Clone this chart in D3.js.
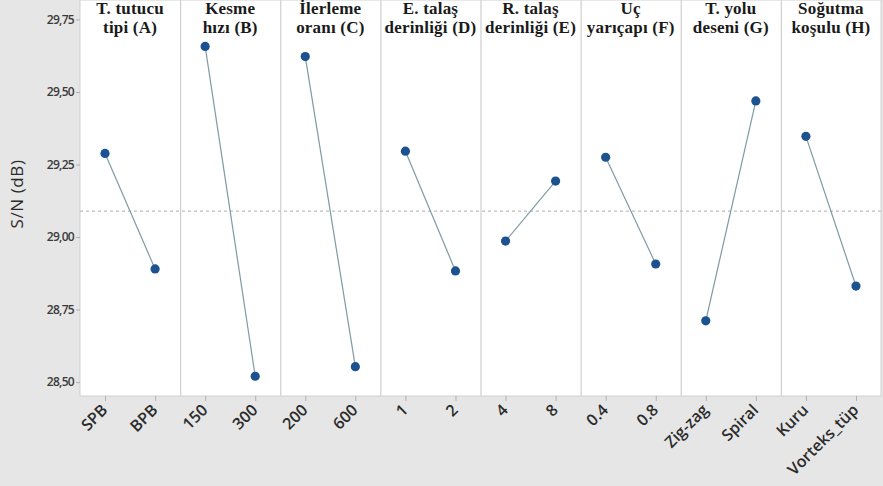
<!DOCTYPE html>
<html>
<head>
<meta charset="utf-8">
<script src="https://cdn.jsdelivr.net/npm/d3@7"></script>
<style>
  html, body { margin: 0; padding: 0; background: #e6e6e6; }
  svg { display: block; }
</style>
</head>
<body>
<svg id="chart" width="883" height="486"></svg>
<script>
// Factor headings (two lines each)
const factorTitles = [
  ["T. tutucu", "tipi (A)"],
  ["Kesme", "hızı (B)"],
  ["İlerleme", "oranı (C)"],
  ["E. talaş", "derinliği (D)"],
  ["R. talaş", "derinliği (E)"],
  ["Uç", "yarıçapı (F)"],
  ["T. yolu", "deseni (G)"],
  ["Soğutma", "koşulu (H)"]
];
// Level labels for each factor
const levelLabels = [
  ["SPB", "BPB"],
  ["150", "300"],
  ["200", "600"],
  ["1", "2"],
  ["4", "8"],
  ["0.4", "0.8"],
  ["Zig-zag", "Spiral"],
  ["Kuru", "Vorteks_tüp"]
];
// Mean S/N ratio (dB) per level
const snValues = [
  [29.288, 28.890],
  [29.657, 28.520],
  [29.622, 28.553],
  [29.296, 28.883],
  [28.986, 29.193],
  [29.275, 28.907],
  [28.711, 29.469],
  [29.347, 28.831]
];
const grandMean = 29.089;
const yTicks = [28.50, 28.75, 29.00, 29.25, 29.50, 29.75];
const yTitle = "S/N (dB)";

const svg = d3.select("#chart");
const W = 883, H = 486;
const plot = { left: 80, right: 881, top: 0, bottom: 396 };

svg.append("rect").attr("width", W).attr("height", H).attr("fill", "#e6e6e6");

const panel = d3.scaleBand()
  .domain(d3.range(factorTitles.length))
  .range([plot.left, plot.right])
  .paddingInner(0).paddingOuter(0);

const y = d3.scaleLinear()
  .domain([28.452, 29.817])
  .range([plot.bottom, plot.top]);

// white plotting area
svg.append("rect")
  .attr("x", plot.left).attr("y", plot.top)
  .attr("width", plot.right - plot.left).attr("height", plot.bottom - plot.top)
  .attr("fill", "#ffffff")
  .attr("stroke", "#d0d0d0").attr("stroke-width", 1);

// panel separators
svg.selectAll("line.sep")
  .data(d3.range(1, factorTitles.length))
  .join("line")
  .attr("class", "sep")
  .attr("x1", i => panel(i) + 0.5).attr("x2", i => panel(i) + 0.5)
  .attr("y1", plot.top).attr("y2", plot.bottom)
  .attr("stroke", "#cfcfcf").attr("stroke-width", 1.2);

// overall mean reference line
svg.append("line")
  .attr("x1", plot.left).attr("x2", plot.right)
  .attr("y1", y(grandMean)).attr("y2", y(grandMean))
  .attr("stroke", "#bdbdbd").attr("stroke-width", 1.2)
  .attr("stroke-dasharray", "3,3");

// y axis
const yAxis = d3.axisLeft(y)
  .tickValues(yTicks)
  .tickSize(4)
  .tickFormat(d => d3.format(".2f")(d).replace(".", ","));
const gy = svg.append("g")
  .attr("transform", `translate(${plot.left},0)`)
  .call(yAxis);
gy.select(".domain").remove();
gy.selectAll(".tick line").attr("stroke", "#b0b0b0");
gy.selectAll(".tick text")
  .attr("fill", "#3a3a3a")
  .style("font-family", "'Open Sans', sans-serif")
  .style("font-size", "12px")
  .style("font-weight", "600")
  .style("letter-spacing", "-0.7px")
  .attr("x", -6);

svg.append("text")
  .attr("transform", `translate(23,194) rotate(-90)`)
  .attr("text-anchor", "middle")
  .attr("fill", "#2b2b2b")
  .style("font-family", "'Open Sans', sans-serif")
  .style("font-size", "17px")
  .style("font-weight", "500")
  .style("letter-spacing", "0.6px")
  .text(yTitle);

// each factor panel
factorTitles.forEach((title, i) => {
  const x = d3.scalePoint()
    .domain(levelLabels[i])
    .range([panel(i), panel(i) + panel.bandwidth()])
    .padding(0.5);

  const g = svg.append("g");

  // heading
  const cx = panel(i) + panel.bandwidth() / 2;
  g.selectAll("text.title")
    .data(title)
    .join("text")
    .attr("class", "title")
    .attr("x", cx)
    .attr("y", (d, k) => 14 + k * 19)
    .attr("text-anchor", "middle")
    .attr("fill", "#1a1a1a")
    .style("font-family", "'Liberation Serif', 'Times New Roman', serif")
    .style("font-weight", "bold")
    .style("font-size", "17px")
    .style("letter-spacing", "0.2px")
    .text(d => d);

  // bottom axis
  const xAxis = d3.axisBottom(x).tickSize(5).tickSizeOuter(0);
  const gx = g.append("g")
    .attr("transform", `translate(0,${plot.bottom})`)
    .call(xAxis);
  gx.select(".domain").remove();
  gx.selectAll(".tick line").attr("stroke", "#b0b0b0");
  gx.selectAll(".tick text")
    .attr("fill", "#2b2b2b")
    .attr("text-anchor", "end")
    .attr("x", 0).attr("y", 0).attr("dy", 0)
    .attr("transform", "translate(3,15) rotate(-45)")
    .style("font-family", "'Open Sans', sans-serif")
    .style("font-weight", "600")
    .style("font-size", "16px");

  const pts = levelLabels[i].map((lab, k) => ({ lab, v: snValues[i][k] }));

  g.append("path")
    .datum(pts)
    .attr("fill", "none")
    .attr("stroke", "#7f9aa3")
    .attr("stroke-width", 1.2)
    .attr("d", d3.line().x(d => x(d.lab)).y(d => y(d.v)));

  g.selectAll("circle")
    .data(pts)
    .join("circle")
    .attr("cx", d => x(d.lab))
    .attr("cy", d => y(d.v))
    .attr("r", 4.6)
    .attr("fill", "#1c5290");
});
</script>
</body>
</html>
